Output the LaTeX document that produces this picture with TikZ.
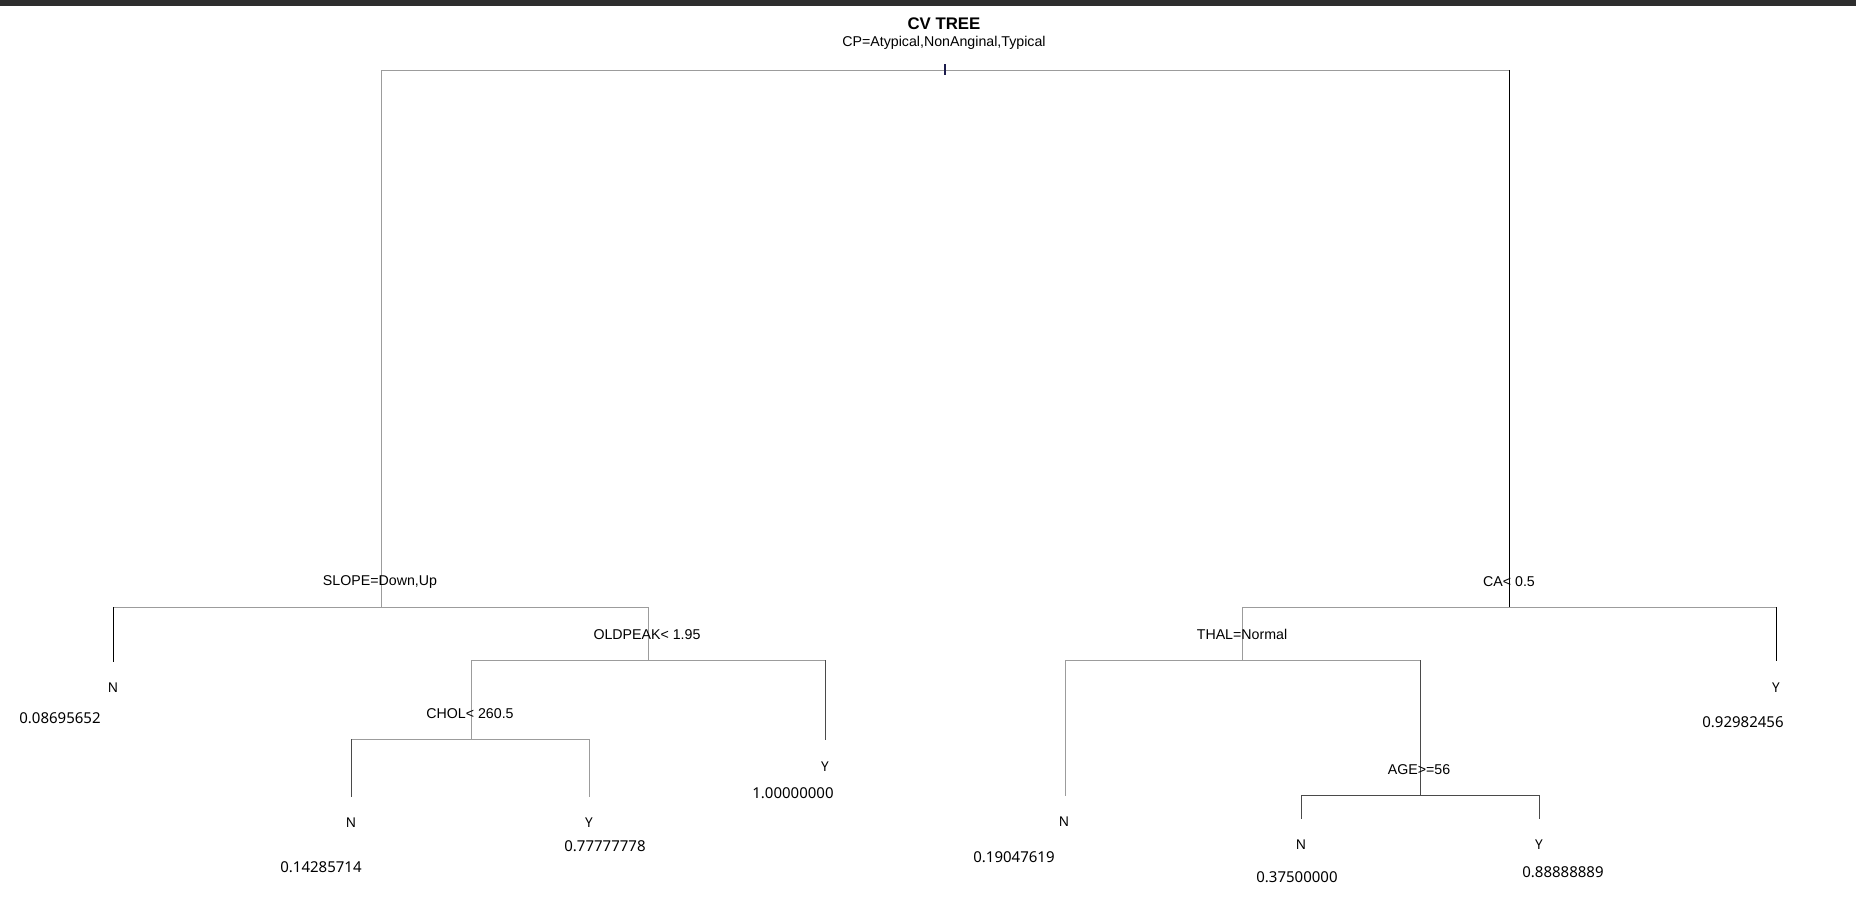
\documentclass[tikz,border=0pt]{standalone}
\usepackage{fontspec}
\setmainfont{Liberation Sans}
\newfontfamily\leaffont{Noto Sans}
\definecolor{lgray}{HTML}{9C9C9C}
\definecolor{dgray}{HTML}{4A4A4A}
\definecolor{barcol}{HTML}{2E2E2E}
\definecolor{tickcol}{HTML}{1C1C4C}
\newcommand{\treeedge}[4]{%
  \draw[#3] (#1) -- (#1 -| #2);
  \draw[#4] (#1 -| #2) -- (#2);}
\begin{document}
\begin{tikzpicture}[x=1pt,y=-1pt,
  lg/.style={draw=lgray, line width=1pt, line cap=rect},
  dg/.style={draw=dgray, line width=1pt, line cap=rect},
  bk/.style={draw=black, line width=1pt, line cap=rect},
  titlelab/.style={font=\bfseries\fontsize{16.8}{19}\selectfont, anchor=base, inner sep=0},
  splitlab/.style={font=\fontsize{14.2}{16}\selectfont, anchor=base, inner sep=0},
  leaflab/.style={font=\leaffont\fontsize{13.5}{15}\selectfont, anchor=base, inner sep=0},
  vallab/.style={font=\leaffont\fontsize{15}{17}\selectfont, anchor=base, inner sep=0}]
\useasboundingbox (0,0) rectangle (1856,910);
\fill[white] (0,0) rectangle (1856,910);
% window bar
\fill[barcol] (0,0) rectangle (1856,6);

% split points and leaf ends
\coordinate (root)    at (945,70);
\coordinate (slope)   at (381,607);
\coordinate (ca)      at (1509,607);
\coordinate (lfA)     at (113,661);
\coordinate (oldpeak) at (648,660);
\coordinate (chol)    at (471,739);
\coordinate (lfB)     at (351,796);
\coordinate (lfC)     at (589,796);
\coordinate (lfD)     at (825,739);
\coordinate (thal)    at (1242,660);
\coordinate (lfE)     at (1776,660);
\coordinate (lfF)     at (1065,795);
\coordinate (age)     at (1420,795);
\coordinate (lfG)     at (1301,818);
\coordinate (lfH)     at (1539,818);

% branches
\treeedge{root}{slope}{lg}{lg}
\treeedge{root}{ca}{lg}{bk}
\treeedge{slope}{lfA}{lg}{bk}
\treeedge{slope}{oldpeak}{lg}{lg}
\treeedge{oldpeak}{chol}{lg}{lg}
\treeedge{oldpeak}{lfD}{lg}{dg}
\treeedge{chol}{lfB}{lg}{dg}
\treeedge{chol}{lfC}{lg}{lg}
\treeedge{ca}{thal}{lg}{lg}
\treeedge{ca}{lfE}{lg}{bk}
\treeedge{thal}{lfF}{lg}{lg}
\treeedge{thal}{age}{lg}{dg}
\treeedge{age}{lfG}{dg}{dg}
\treeedge{age}{lfH}{dg}{dg}

% root marker
\draw[tickcol, line width=1.2pt] ([yshift=6pt]root) -- ([yshift=-5pt]root);

% titles
\node[titlelab] (title) at (944,29) {CV TREE};
\node[splitlab] (rootlab) at (944,46) {CP=Atypical,NonAnginal,Typical};

% split labels
\node[splitlab] (slopelab)   at (380,585) {SLOPE=Down,Up};
\node[splitlab] (oldpeaklab) at (647,639) {OLDPEAK< 1.95};
\node[splitlab] (chollab)    at (470,718) {CHOL< 260.5};
\node[splitlab] (calab)      at (1509,586) {CA< 0.5};
\node[splitlab] (thallab)    at (1242,639) {THAL=Normal};
\node[splitlab] (agelab)     at (1419,774) {AGE>=56};

% leaf classes
\node[leaflab] (clsA) at (113,692)  {N};
\node[leaflab] (clsB) at (351,827)  {N};
\node[leaflab] (clsC) at (589,827)  {Y};
\node[leaflab] (clsD) at (825,771)  {Y};
\node[leaflab] (clsE) at (1776,692) {Y};
\node[leaflab] (clsF) at (1064,826) {N};
\node[leaflab] (clsG) at (1301,849) {N};
\node[leaflab] (clsH) at (1539,849) {Y};

% leaf probabilities
\node[vallab] (valA) at (60,723)   {0.08695652};
\node[vallab] (valB) at (321,872)  {0.14285714};
\node[vallab] (valC) at (605,851)  {0.77777778};
\node[vallab] (valD) at (793,798)  {1.00000000};
\node[vallab] (valE) at (1743,727) {0.92982456};
\node[vallab] (valF) at (1014,862) {0.19047619};
\node[vallab] (valG) at (1297,882) {0.37500000};
\node[vallab] (valH) at (1563,877) {0.88888889};
\end{tikzpicture}
\end{document}
